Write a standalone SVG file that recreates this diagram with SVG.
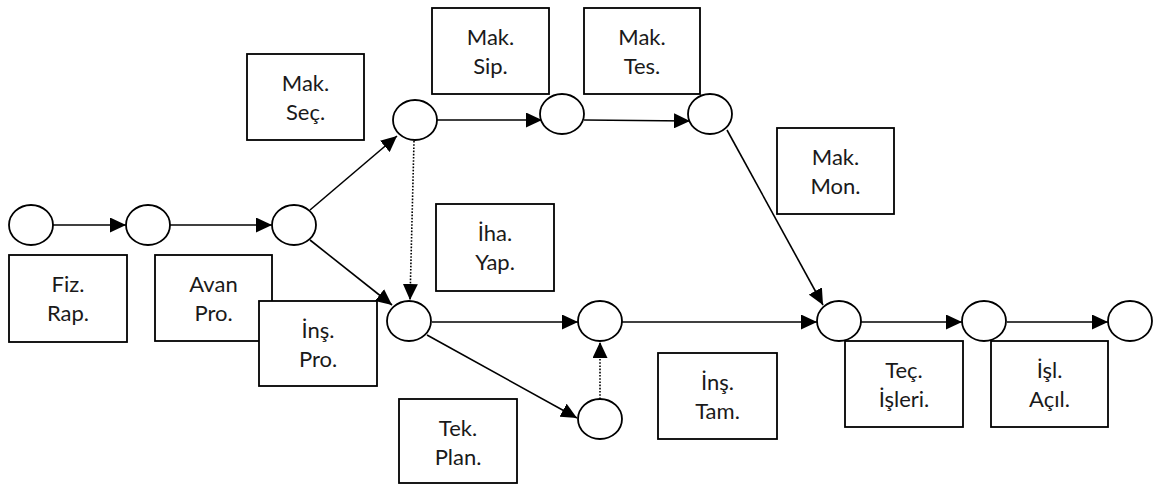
<svg xmlns="http://www.w3.org/2000/svg" width="1167" height="484" viewBox="0 0 1167 484">
  <style>
    .ev { fill: #fff; stroke: #000; stroke-width: 1.8; }
    .box { fill: #fff; stroke: #000; stroke-width: 1.8; }
    .lbl { font-family: Lato, "Open Sans", "Noto Sans", sans-serif; font-size: 22px; fill: #1a1a1a; text-anchor: middle; }
    .act { fill: none; stroke: #000; stroke-width: 1.6; marker-end: url(#arrow); }
    .dummy { fill: none; stroke: #000; stroke-width: 1.6; stroke-dasharray: 1.6 1.6; marker-end: url(#arrow); }
  </style>
  <defs>
    <marker id="arrow" markerUnits="userSpaceOnUse" markerWidth="17" markerHeight="15" refX="16" refY="7.5" orient="auto">
      <path d="M0,0 L16,7.5 L0,15 Z" fill="#000"/>
    </marker>
  </defs>

  <!-- activity arrows -->
  <g id="connectors">
    <path class="act" d="M53,225 L126,225"/>
    <path class="act" d="M170,225 L272,225"/>
    <path class="act" d="M310,210 L397,136"/>
    <path class="act" d="M310,240 L392,305"/>
    <path class="act" d="M437,120 L542,120"/>
    <path class="act" d="M584,120 L690,121"/>
    <path class="act" d="M727,130 L823,305"/>
    <path class="act" d="M432,322 L578,322"/>
    <path class="act" d="M427,335 L577,418"/>
    <path class="act" d="M622,322 L817,322"/>
    <path class="act" d="M861,322 L962,322"/>
    <path class="act" d="M1007,322 L1108,322"/>
    <path class="dummy" d="M414,141 L410,300"/>
    <path class="dummy" d="M600,399 L600,342"/>
  </g>

  <!-- events -->
  <g id="ev1"><ellipse class="ev" cx="31" cy="225" rx="22" ry="20"/></g>
  <g id="ev2"><ellipse class="ev" cx="148" cy="225" rx="22" ry="20"/></g>
  <g id="ev3"><ellipse class="ev" cx="294" cy="225" rx="22" ry="20"/></g>
  <g id="ev4"><ellipse class="ev" cx="415" cy="120" rx="22" ry="20"/></g>
  <g id="ev5"><ellipse class="ev" cx="562" cy="114" rx="22" ry="20"/></g>
  <g id="ev6"><ellipse class="ev" cx="710" cy="114" rx="22" ry="20"/></g>
  <g id="ev7"><ellipse class="ev" cx="409" cy="321" rx="22" ry="20"/></g>
  <g id="ev8"><ellipse class="ev" cx="600" cy="321" rx="22" ry="20"/></g>
  <g id="ev9"><ellipse class="ev" cx="600" cy="419" rx="22" ry="20"/></g>
  <g id="ev10"><ellipse class="ev" cx="839" cy="321" rx="22" ry="20"/></g>
  <g id="ev11"><ellipse class="ev" cx="984" cy="321" rx="22" ry="20"/></g>
  <g id="ev12"><ellipse class="ev" cx="1130" cy="321" rx="22" ry="20"/></g>

  <!-- activity labels -->
  <g id="fiz-rap">
    <rect class="box" x="9" y="255" width="118" height="87"/>
    <text class="lbl" x="68" y="292">Fiz.</text>
    <text class="lbl" x="68" y="321">Rap.</text>
  </g>
  <g id="avan-pro">
    <rect class="box" x="155" y="255" width="117" height="86"/>
    <text class="lbl" x="213.5" y="292">Avan</text>
    <text class="lbl" x="213.5" y="321">Pro.</text>
  </g>
  <g id="ins-pro">
    <rect class="box" x="259" y="301" width="118" height="85"/>
    <text class="lbl" x="318" y="338">İnş.</text>
    <text class="lbl" x="318" y="367">Pro.</text>
  </g>
  <g id="mak-sec">
    <rect class="box" x="247" y="54" width="117" height="86"/>
    <text class="lbl" x="305.5" y="91">Mak.</text>
    <text class="lbl" x="305.5" y="120">Seç.</text>
  </g>
  <g id="mak-sip">
    <rect class="box" x="432" y="8" width="117" height="86"/>
    <text class="lbl" x="490.5" y="45">Mak.</text>
    <text class="lbl" x="490.5" y="74">Sip.</text>
  </g>
  <g id="mak-tes">
    <rect class="box" x="584" y="8" width="116" height="86"/>
    <text class="lbl" x="642" y="45">Mak.</text>
    <text class="lbl" x="642" y="74">Tes.</text>
  </g>
  <g id="mak-mon">
    <rect class="box" x="777" y="128" width="117" height="86"/>
    <text class="lbl" x="835.5" y="165">Mak.</text>
    <text class="lbl" x="835.5" y="194">Mon.</text>
  </g>
  <g id="iha-yap">
    <rect class="box" x="436" y="204" width="118" height="87"/>
    <text class="lbl" x="495" y="241">İha.</text>
    <text class="lbl" x="495" y="270">Yap.</text>
  </g>
  <g id="tek-plan">
    <rect class="box" x="399" y="399" width="118" height="84"/>
    <text class="lbl" x="458" y="436">Tek.</text>
    <text class="lbl" x="458" y="465">Plan.</text>
  </g>
  <g id="ins-tam">
    <rect class="box" x="658" y="353" width="119" height="86"/>
    <text class="lbl" x="717.5" y="390">İnş.</text>
    <text class="lbl" x="717.5" y="419">Tam.</text>
  </g>
  <g id="tec-isleri">
    <rect class="box" x="845" y="341" width="118" height="86"/>
    <text class="lbl" x="904" y="378">Teç.</text>
    <text class="lbl" x="904" y="407">İşleri.</text>
  </g>
  <g id="isl-acil">
    <rect class="box" x="991" y="341" width="117" height="86"/>
    <text class="lbl" x="1049.5" y="378">İşl.</text>
    <text class="lbl" x="1049.5" y="407">Açıl.</text>
  </g>
</svg>
